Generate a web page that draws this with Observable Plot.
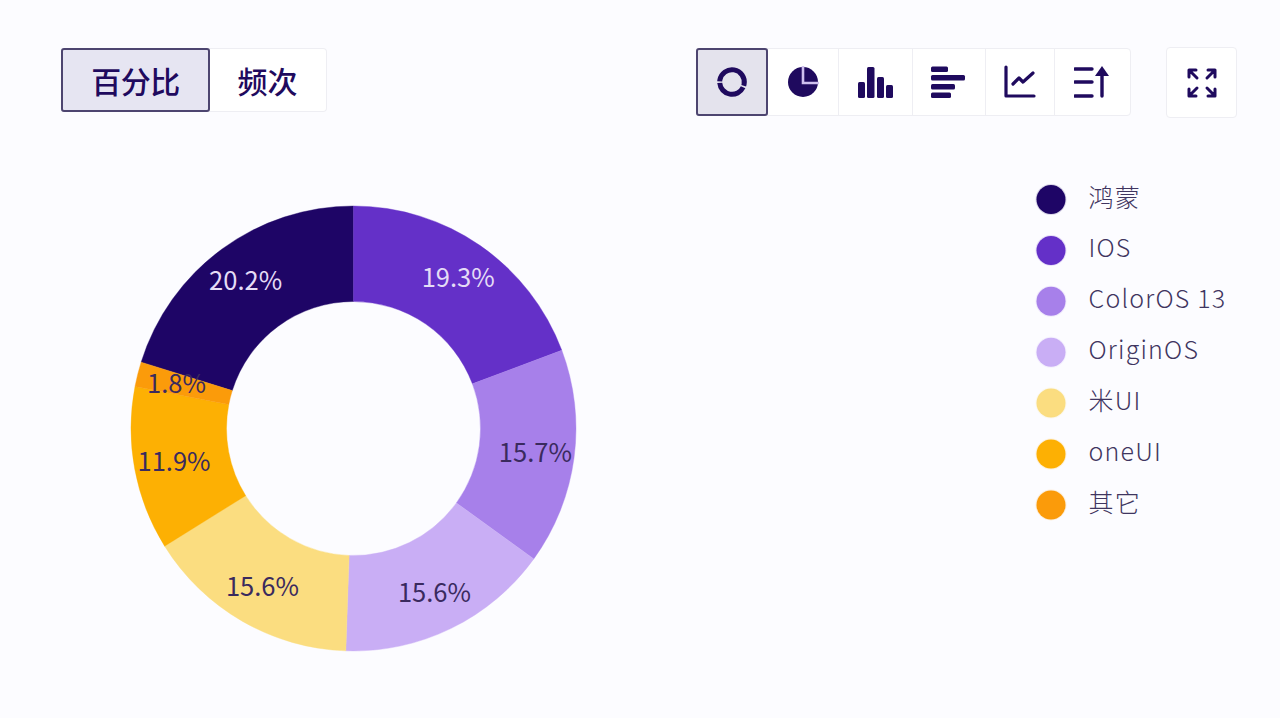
<!DOCTYPE html>
<html lang="zh">
<head>
<meta charset="utf-8">
<script src="https://cdn.jsdelivr.net/npm/d3@7"></script>
<script src="https://cdn.jsdelivr.net/npm/@observablehq/plot@0.6"></script>
<style>
html,body{margin:0;padding:0;background:#fcfcff;width:1280px;height:718px;overflow:hidden}
#wrap{position:relative;width:1280px;height:718px;font-family:"Noto Sans CJK SC","Noto Sans",sans-serif}
#chart{position:absolute;left:0;top:0}
.btn{position:absolute;box-sizing:border-box;background:#fff;border:1px solid #eeeef3;display:flex;align-items:center;justify-content:center;color:#1f0a5e;font-size:30px;font-weight:500;line-height:1}
.btn.on{background:#e6e5f2;border:2px solid #4d4570;border-radius:3px}
.btn svg{display:block}
.i{fill:#1f0a5e}
.s{fill:none;stroke:#1f0a5e;stroke-linecap:round;stroke-linejoin:round}
</style>
</head>
<body>
<div id="wrap">
<div id="chart"></div>
<div class="btn" style="left:209px;top:48px;width:118px;height:64px;border-radius:0 4px 4px 0;border-left:none">频次</div>
<div class="btn on" style="left:61px;top:48px;width:149px;height:64px;letter-spacing:-.5px">百分比</div>

<div class="btn" style="left:767px;top:48px;width:72px;height:68px"><svg width="34" height="34" viewBox="-17 -17 34 34"><circle class="i" r="15"/><path d="M0 -16V1H16" fill="none" stroke="#cfc0ef" stroke-width="2.6"/></svg></div>
<div class="btn" style="left:838px;top:48px;width:75px;height:68px"><svg width="38" height="34" viewBox="0 0 38 34"><rect class="i" x="1" y="17" width="7" height="16" rx="1.5"/><rect class="i" x="10" y="2" width="7.5" height="31" rx="1.5"/><rect class="i" x="20" y="12" width="7" height="21" rx="1.5"/><rect class="i" x="29" y="20" width="7" height="13" rx="1.5"/></svg></div>
<div class="btn" style="left:912px;top:48px;width:74px;height:68px"><svg width="38" height="34" viewBox="0 0 38 34"><rect class="i" x="1" y="1.5" width="17" height="5.5" rx="1.5"/><rect class="i" x="1" y="10" width="34" height="5.5" rx="1.5"/><rect class="i" x="1" y="19" width="24" height="5.5" rx="1.5"/><rect class="i" x="1" y="27.5" width="20" height="5.5" rx="1.5"/></svg></div>
<div class="btn" style="left:985px;top:48px;width:70px;height:68px"><svg width="34" height="34" viewBox="0 0 34 34"><path class="s" stroke-width="3.2" d="M3 2V31H31M10 19L16 13L20 17L30 8"/></svg></div>
<div class="btn" style="left:1054px;top:48px;width:77px;height:68px;border-radius:0 4px 4px 0"><svg width="38" height="34" viewBox="0 0 38 34"><path class="s" stroke-width="3.4" d="M1 4H18M1 17H18M1 31H18M28 31V6"/><path class="i" d="M21 11L28 1L35 11Z"/></svg></div>
<div class="btn" style="left:1166px;top:47px;width:71px;height:71px;border-radius:4px"><svg width="32" height="32" viewBox="0 0 32 32"><path class="s" stroke-width="3" d="M3 10V3H10M3 3L11 11M29 10V3H22M29 3L21 11M3 22V29H10M3 29L11 21M29 22V29H22M29 29L21 21"/></svg></div>
<div class="btn on" style="left:696px;top:48px;width:72px;height:68px;background:#e4e3ed"><svg width="36" height="36" viewBox="-18 -18 36 36"><circle class="s" r="12.3" stroke-width="5" stroke-dasharray="21 1.5 32 1.5 22 1.5" style="stroke-linecap:butt" transform="rotate(-80)"/></svg></div>
</div>
<script>
const names  = ["鸿蒙", "IOS", "ColorOS 13", "OriginOS", "米UI", "oneUI", "其它"];
const shares = [20.2, 19.3, 15.7, 15.6, 15.6, 11.9, 1.8];
const colors = ["#1e0566", "#6430c8", "#a780ea", "#c9aef5", "#fbdd80", "#fdb003", "#fb9b0a"];
const labelInk = ["#e4dcf6", "#e4dcf6", "#3a2a5e", "#3a2a5e", "#3a2a5e", "#3a2a5e", "#3a2a5e"];

const rows = names.map((name, i) => ({name, share: shares[i], ink: labelInk[i], order: i}));
const total = d3.sum(shares);

// ring layout
const cx = 353.5, cy = 428.5, outer = 222.5, inner = 127, labelR = 183;
const start = -2 * Math.PI * shares[0] / total;
const pie = d3.pie().value(d => d.share).sort(null).startAngle(start).endAngle(start + 2 * Math.PI);
const slices = pie(rows);
const ring = d3.arc().innerRadius(inner).outerRadius(outer);
const labelArc = d3.arc().innerRadius(labelR).outerRadius(labelR);
const labelled = slices.map(s => {
  const [dx, dy] = labelArc.centroid(s);
  return {...s.data, lx: cx + dx, ly: cy + dy, text: s.data.share.toFixed(1) + "%"};
});

// legend layout
const legendY = i => 199 + i * 50.9;

const donut = (index, {x, y, color}) => {
  const g = d3.create("svg:g").attr("aria-label", "donut").attr("transform", `translate(${x(cx)},${y(cy)})`);
  g.selectAll("path").data(slices).join("path")
    .attr("d", ring)
    .attr("fill", d => color(d.data.name))
    .attr("stroke", d => color(d.data.name))
    .attr("stroke-width", 0.4);
  return g.node();
};

const plot = Plot.plot({
  width: 1280,
  height: 718,
  margin: 0,
  style: {background: "transparent", fontFamily: '"Noto Sans CJK SC","Noto Sans",sans-serif'},
  x: {domain: [0, 1280], range: [0, 1280], axis: null},
  y: {domain: [0, 718], range: [0, 718], axis: null},
  color: {domain: names, range: colors},
  marks: [
    Plot.dot(rows, {x: () => 1050.5, y: d => legendY(d.order), r: 14.5, fill: "name", stroke: "name", strokeOpacity: 0.15, strokeWidth: 2}),
    donut,
    Plot.text(labelled, {x: "lx", y: "ly", text: "text", fill: "ink", fontSize: 25.5, textAnchor: "middle"}),
    Plot.text(rows, {x: () => 1088, y: d => legendY(d.order) - 1, text: "name", fill: "#3f3560", fontSize: 25, textAnchor: "start", fontWeight: 300,
      render(index, scales, values, dims, context, next) {
        const g = next(index, scales, values, dims, context);
        g.style.letterSpacing = "1.2px";
        return g;
      }})
  ]
});
document.getElementById("chart").append(plot);
</script>
</body>
</html>
